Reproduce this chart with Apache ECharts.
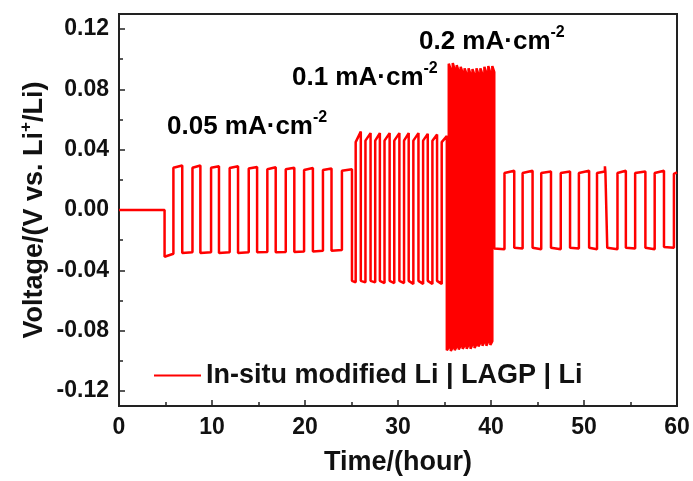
<!DOCTYPE html>
<html>
<head>
<meta charset="utf-8">
<script src="https://cdn.jsdelivr.net/npm/echarts@6/dist/echarts.min.js"></script>
<style>
  html, body { margin: 0; padding: 0; background: #fff; }
  #chart { width: 693px; height: 481px; }
</style>
</head>
<body>
<div id="chart"></div>
<script>
// each entry is one half cycle: start time (h), voltage at start, voltage at end
const stepTimes = [
  0, 4.9, 5.85, 6.8, 7.9, 8.75, 9.9, 10.75, 11.9, 12.8, 13.95, 14.85, 15.95, 16.85,
  17.93, 18.85, 19.9, 20.85, 21.93, 22.85, 23.97,
  // 0.1 mA/cm2
  25.05, 25.45, 26.0, 26.5, 27.05, 27.55, 28.05, 28.55, 29.1, 29.6, 30.15, 30.65,
  31.15, 31.65, 32.2, 32.7, 33.2, 33.7, 34.2, 34.7,
  // 0.2 mA/cm2
  35.25, 35.46, 35.68, 35.89, 36.10, 36.31, 36.53, 36.74, 36.95, 37.16, 37.38, 37.59,
  37.80, 38.01, 38.23, 38.44, 38.65, 38.86, 39.08, 39.29, 39.50, 39.71, 39.93, 40.14,
  // back to 0.05 mA/cm2
  40.35, 41.45, 42.5, 43.4, 44.47, 45.4, 46.45, 47.5, 48.5, 49.45, 50.55, 51.4,
  52.25, 52.3, 52.5, 53.6, 54.5, 55.5, 56.6, 57.6, 58.6, 59.67
];
const stepStartV = [
  0, -0.031, 0.028, -0.0285, 0.028, -0.0285, 0.028, -0.0285, 0.0278, -0.0285, 0.0275, -0.028,
  0.027, -0.028, 0.027, -0.0278, 0.0265, -0.0275, 0.0265, -0.027, 0.026,
  -0.047, 0.045, -0.047, 0.046, -0.047, 0.046, -0.047, 0.046, -0.047, 0.046, -0.047, 0.046,
  -0.047, 0.046, -0.047, 0.046, -0.047, 0.046, -0.047, 0.045,
  -0.093, 0.097, -0.0935, 0.0975, -0.093, 0.096, -0.0925, 0.095, -0.092, 0.094, -0.092, 0.094,
  -0.092, 0.0935, -0.0915, 0.094, -0.0905, 0.094, -0.090, 0.095, -0.090, 0.0955, -0.0895, 0.0955,
  -0.0255, 0.0245, -0.025, 0.0245, -0.025, 0.0245, -0.025, 0.0245, -0.025, 0.0245, -0.025, 0.0245,
  0.029, 0.0255, -0.025, 0.0245, -0.025, 0.0245, -0.025, 0.0245, -0.0245, 0.024
];
const stepEndV = [
  0, -0.029, 0.0295, -0.028, 0.0295, -0.028, 0.029, -0.028, 0.029, -0.028, 0.0285, -0.0278,
  0.0283, -0.0278, 0.028, -0.0275, 0.0278, -0.027, 0.0275, -0.0265, 0.027,
  -0.048, 0.052, -0.048, 0.051, -0.048, 0.051, -0.0485, 0.051, -0.0485, 0.051, -0.0485, 0.051,
  -0.049, 0.051, -0.049, 0.0505, -0.049, 0.050, -0.049, 0.049,
  -0.091, 0.093, -0.091, 0.093, -0.0905, 0.092, -0.090, 0.091, -0.090, 0.090, -0.0895, 0.090,
  -0.089, 0.0895, -0.089, 0.090, -0.088, 0.090, -0.0875, 0.091, -0.087, 0.091, -0.087, 0.0915,
  -0.026, 0.026, -0.0255, 0.026, -0.026, 0.0255, -0.026, 0.0255, -0.0255, 0.026, -0.026, 0.0255,
  0.0255, 0.026, -0.026, 0.026, -0.0255, 0.0255, -0.026, 0.026, -0.025, 0.025
];
const endTime = 60;

const xTicks = [0, 10, 20, 30, 40, 50, 60];
const yTicks = [-0.12, -0.08, -0.04, 0, 0.04, 0.08, 0.12];
const yMinorTicks = [-0.1, -0.06, -0.02, 0.02, 0.06, 0.1];
const seriesName = 'In-situ modified Li | LAGP | Li';

const points = [];
stepTimes.forEach((t, i) => {
  const next = i + 1 < stepTimes.length ? stepTimes[i + 1] : endTime;
  points.push([t, stepStartV[i]]);
  points.push([next, stepEndV[i]]);
});

const font = 'Arial, "Liberation Sans", sans-serif';
const axisColor = '#222';
const textColor = '#111';

const chart = echarts.init(document.getElementById('chart'));

const tagRich = {
  a: { fontSize: 26, fontWeight: 'bold', fontFamily: font, color: textColor, lineHeight: 34 },
  b: { fontSize: 16, fontWeight: 'bold', fontFamily: font, color: textColor, verticalAlign: 'top', lineHeight: 34 }
};

chart.setOption({
  animation: false,
  grid: {
    left: 119, right: 16, top: 14, bottom: 73,
    show: true, borderColor: axisColor, borderWidth: 2, backgroundColor: 'transparent'
  },
  legend: {
    left: 149,
    top: 357,
    itemWidth: 47,
    itemHeight: 2,
    itemGap: 0,
    data: [{ name: seriesName, icon: 'rect' }],
    textStyle: { fontSize: 27, fontWeight: 'bold', fontFamily: font, color: textColor }
  },
  xAxis: {
    type: 'value',
    min: 0,
    max: 60,
    interval: 10,
    name: 'Time/(hour)',
    nameLocation: 'middle',
    nameGap: 43,
    nameMoveOverlap: false,
    nameTextStyle: { fontSize: 27, fontWeight: 'bold', fontFamily: font, color: textColor },
    axisLine: { show: true, onZero: false, lineStyle: { color: axisColor, width: 2 } },
    axisTick: { inside: true, length: 6, lineStyle: { color: axisColor, width: 1.5 } },
    minorTick: { show: true, splitNumber: 2, length: 4, lineStyle: { color: axisColor, width: 1.5 } },
    axisLabel: {
      customValues: xTicks,
      margin: 10,
      fontSize: 23, fontWeight: 'bold', fontFamily: font, color: textColor
    },
    splitLine: { show: false }
  },
  yAxis: [
    {
      type: 'value',
      min: -0.13,
      max: 0.13,
      name: 'Voltage/(V vs. Li{s|+}/Li)',
      nameLocation: 'middle',
      nameGap: 67,
      nameMoveOverlap: false,
      nameTextStyle: {
        fontSize: 27, fontWeight: 'bold', fontFamily: font, color: textColor,
        rich: {
          s: { fontSize: 17, fontWeight: 'bold', fontFamily: font, color: textColor, verticalAlign: 'top', lineHeight: 34 }
        },
        lineHeight: 34
      },
      axisLine: { show: true, onZero: false, lineStyle: { color: axisColor, width: 2 } },
      axisTick: { inside: true, length: 6, customValues: yTicks, lineStyle: { color: axisColor, width: 1.5 } },
      axisLabel: {
        customValues: yTicks,
        formatter: (v) => v.toFixed(2),
        margin: 10,
        fontSize: 23, fontWeight: 'bold', fontFamily: font, color: textColor
      },
      splitLine: { show: false }
    },
    {
      type: 'value',
      min: -0.13,
      max: 0.13,
      position: 'left',
      axisLine: { show: false, onZero: false },
      axisTick: { inside: true, length: 4, customValues: yMinorTicks, lineStyle: { color: axisColor, width: 1.5 } },
      axisLabel: { show: false },
      splitLine: { show: false }
    }
  ],
  series: [
    {
      name: seriesName,
      type: 'line',
      yAxisIndex: 0,
      data: points,
      symbol: 'none',
      lineStyle: { color: '#ff0000', width: 2.5 },
      itemStyle: { color: '#ff0000' }
    }
  ],
  graphic: [
    { type: 'text', left: 167, top: 110, style: { text: '{a|0.05 mA·cm}{b|-2}', rich: tagRich } },
    { type: 'text', left: 292, top: 61, style: { text: '{a|0.1 mA·cm}{b|-2}', rich: tagRich } },
    { type: 'text', left: 419, top: 25, style: { text: '{a|0.2 mA·cm}{b|-2}', rich: tagRich } }
  ]
});
</script>
</body>
</html>
